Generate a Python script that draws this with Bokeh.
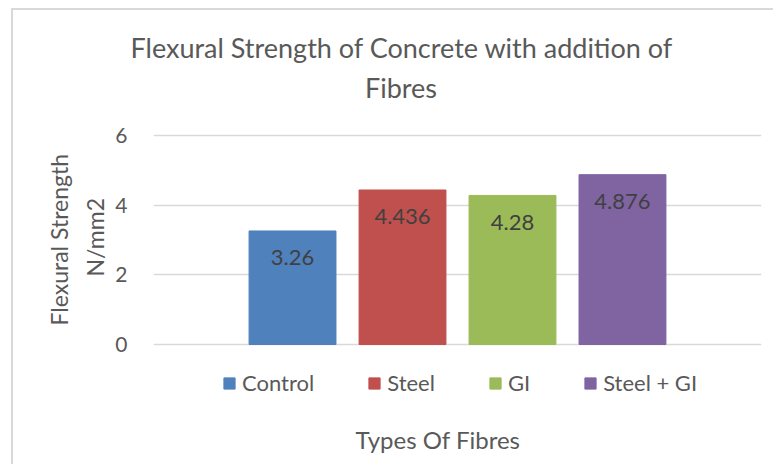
from bokeh.plotting import figure
from bokeh.models import Range1d, Legend, LegendItem, ColumnDataSource, Title, Label
from bokeh.core.properties import value
from bokeh.embed import file_html
from bokeh.resources import INLINE

categories = ["Control", "Steel", "GI", "Steel + GI"]
strengths = [3.26, 4.436, 4.28, 4.876]
colors = ["#4F81BD", "#C0504D", "#9BBB59", "#8064A2"]
y_ticks = [0, 2, 4, 6]
title_lines = ["Flexural Strength of Concrete with addition of", "Fibres"]
y_title_lines = ["Flexural Strength", "N/mm2"]
x_title = "Types Of Fibres"

FONT = "Lato"
TXT = "#595959"

src = ColumnDataSource(dict(
    x=list(range(len(categories))),
    y=strengths,
    cat=categories,
    color=colors,
    lbl=[str(v) for v in strengths],
))

PX_PER_UNIT = 34.83
FRAME_H = 396
y_end = 276 / PX_PER_UNIT
y_start = y_end - FRAME_H / PX_PER_UNIT

p = figure(title=None, frame_width=608, frame_height=FRAME_H,
           min_border_left=140, min_border_right=12,
           min_border_top=58, min_border_bottom=0,
           x_range=Range1d(-1.264, 4.264), y_range=Range1d(y_start, y_end),
           x_axis_type=None, output_backend="svg", toolbar_location=None)
p.outline_line_color = None
p.background_fill_color = "white"
p.border_fill_color = "white"
p.styles = {"border-top": "2px solid #D9D9D9", "border-left": "2px solid #D9D9D9"}
p.margin = (8, 0, 0, 11)

p.yaxis.ticker = y_ticks
p.yaxis.axis_line_color = None
p.yaxis.major_tick_line_color = None
p.yaxis.minor_tick_line_color = None
p.yaxis.major_label_standoff = 20
p.yaxis.major_label_text_font = FONT
p.yaxis.major_label_text_font_size = "21px"
p.yaxis.major_label_text_color = TXT
p.ygrid.grid_line_color = "#D9D9D9"
p.ygrid.grid_line_width = 1.6
p.xgrid.grid_line_color = None

r = p.vbar(x="x", top="y", width=0.79, bottom=0, color="color", source=src)
p.text(x="x", y="y", text="lbl", source=src, y_offset=27,
       text_align="center", text_baseline="middle",
       text_font=value(FONT), text_font_size="22px", text_color="#404040")

legend = Legend(items=[LegendItem(label=c, renderers=[r], index=i) for i, c in enumerate(categories)],
                orientation="horizontal", location=(69, 68),
                glyph_width=14, glyph_height=14, label_standoff=6, spacing=53,
                padding=0, margin=0, border_line_color=None, background_fill_alpha=0,
                label_text_font=FONT, label_text_font_size="22px", label_text_color=TXT)
p.add_layout(legend, "center")

def lab(text, x, y, size):
    p.add_layout(Label(text=text, x=x, y=y, x_units="screen", y_units="screen",
                       text_align="center", text_baseline="middle",
                       text_font=FONT, text_font_size=size, text_color=TXT))

lab(x_title, 284.5, 25, "24px")
lab(title_lines[1], 247.5, 377, "27px")

def ttl(text, side, size, align="center", offset=0, standoff=10):
    p.add_layout(Title(text=text, align=align, offset=offset, standoff=standoff,
                       text_font=FONT, text_font_size=size, text_font_style="normal",
                       text_color=TXT), side)

ttl(title_lines[0], "above", "27px", align="left", offset=-23, standoff=9)
ttl(y_title_lines[1], "left", "23px", align="left", offset=188, standoff=7)
ttl(y_title_lines[0], "left", "23px", align="left", offset=139, standoff=5)

open("out.html", "w").write(file_html(p, INLINE))
